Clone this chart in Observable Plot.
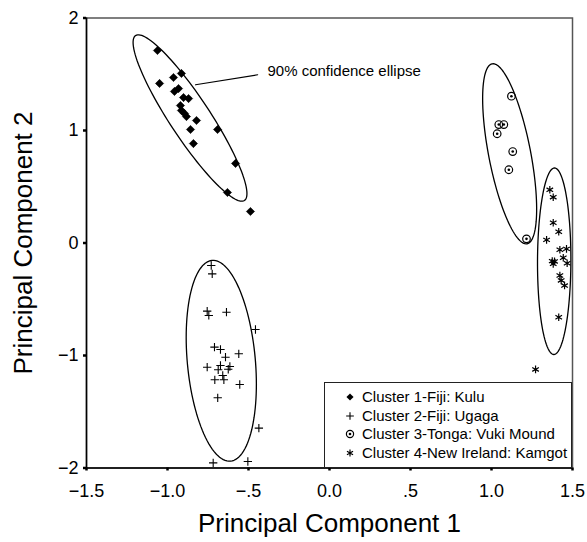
<!DOCTYPE html>
<html><head><meta charset="utf-8">
<script src="https://cdn.jsdelivr.net/npm/d3@7"></script>
<script src="https://cdn.jsdelivr.net/npm/@observablehq/plot@0.6"></script>
<style>
html,body{margin:0;padding:0;background:#fff;}
#wrap{position:relative;width:587px;height:542px;font-family:"Liberation Sans",Arial,sans-serif;color:#000;}
#legend{position:absolute;left:324px;top:382px;width:248px;height:86px;border:1px solid #222;box-sizing:border-box;background:#fff;}
.row{position:absolute;left:0;height:18px;width:246px;}
.row svg{position:absolute;left:17px;top:1px;}
.row span{position:absolute;left:37px;top:0;font-size:15px;line-height:18px;white-space:nowrap;}
</style></head><body><div id="wrap"></div>
<script>
// ---- data ----
const clusterNames = ["Cluster 1-Fiji: Kulu","Cluster 2-Fiji: Ugaga","Cluster 3-Tonga: Vuki Mound","Cluster 4-New Ireland: Kamgot"];

const c1x = [-1.062,-1.049,-0.963,-0.914,-0.957,-0.932,-0.870,-0.901,-0.920,-0.914,-0.895,-0.883,-0.821,-0.858,-0.691,-0.840,-0.580,-0.630,-0.488];
const c1y = [1.711,1.418,1.471,1.507,1.347,1.373,1.284,1.293,1.222,1.178,1.151,1.124,1.089,1.009,1.009,0.884,0.707,0.449,0.280];

const c2x = [-0.730,-0.724,-0.755,-0.745,-0.636,-0.457,-0.710,-0.673,-0.560,-0.642,-0.755,-0.673,-0.687,-0.615,-0.625,-0.659,-0.708,-0.652,-0.554,-0.690,-0.436,-0.718,-0.504];
const c2y = [-0.200,-0.274,-0.606,-0.644,-0.615,-0.769,-0.926,-0.947,-0.985,-1.015,-1.104,-1.089,-1.127,-1.098,-1.122,-1.178,-1.216,-1.216,-1.258,-1.376,-1.646,-1.954,-1.942];

const c3x = [1.123,1.045,1.076,1.035,1.131,1.107,1.216];
const c3y = [1.305,1.053,1.053,0.971,0.813,0.651,0.037];

const c4x = [1.360,1.381,1.381,1.415,1.340,1.422,1.463,1.443,1.375,1.381,1.389,1.467,1.422,1.430,1.451,1.415,1.272];
const c4y = [0.473,0.407,0.180,0.100,0.028,-0.060,-0.052,-0.131,-0.161,-0.185,-0.164,-0.180,-0.289,-0.333,-0.378,-0.660,-1.124];

// 90% ellipses: centre and semi-axis vectors (data units)
const ellCx = [-0.861,-0.668,1.112,1.387];
const ellCy = [1.111,-1.047,0.793,-0.162];
const ellMajorDx = [0.336,0.057,0.108,-0.002];
const ellMajorDy = [-0.733,-0.892,-0.800,-0.829];
const ellMinorDx = [0.103,0.209,0.127,0.103];
const ellMinorDy = [0.099,0.028,0.036,0.000];

const xTicks = [-1.5,-1,-0.5,0,0.5,1,1.5];
const xTickLabels = ["\u22121.5","\u22121.0","\u2212.5","0.0",".5","1.0","1.5"];
const yTicks = [-2,-1,0,1,2];
const yTickLabels = ["\u22122","\u22121","0","1","2"];
const xTitle = "Principal Component 1";
const yTitle = "Principal Component 2";
const noteText = "90% confidence ellipse";
const noteLineX = [-0.827,-0.443];
const noteLineY = [1.406,1.495];
const noteX = -0.383, noteY = 1.527;

// ---- build tables ----
const zip = (xs,ys) => xs.map((x,i)=>({x, y:ys[i]}));
const d1 = zip(c1x,c1y), d2 = zip(c2x,c2y), d3p = zip(c3x,c3y), d4 = zip(c4x,c4y);
const ellPts = [];
ellCx.forEach((cx,k)=>{
  for(let a=0;a<360;a+=3){
    const t=a*Math.PI/180;
    ellPts.push({k, x: cx + ellMajorDx[k]*Math.cos(t) + ellMinorDx[k]*Math.sin(t),
                    y: ellCy[k] + ellMajorDy[k]*Math.cos(t) + ellMinorDy[k]*Math.sin(t)});
  }
});
const noteLine = zip(noteLineX, noteLineY);

const font = "Liberation Sans, Arial, sans-serif";
const chart = Plot.plot({
  width:587, height:542,
  marginLeft:86, marginRight:15, marginTop:17.5, marginBottom:74.5,
  x:{domain:[-1.5,1.5]},
  y:{domain:[-2,2]},
  style:{fontFamily:font, background:"white", color:"#000", overflow:"visible"},
  marks:[
    Plot.frame({stroke:"#555", strokeWidth:1.5}),
    Plot.ruleX([-1.5],{stroke:"#000", strokeWidth:1.5}),
    Plot.ruleY([-2],{stroke:"#000", strokeWidth:1.5}),
    Plot.axisX(xTicks,{tickSize:3, strokeWidth:2.5, tickPadding:13, fontSize:18, tickFormat:d=>xTickLabels[xTicks.indexOf(d)], label:null}),
    Plot.axisY(yTicks,{tickSize:3, strokeWidth:2.5, tickPadding:5, fontSize:18, tickFormat:d=>yTickLabels[yTicks.indexOf(d)], label:null}),
    Plot.line(ellPts,{x:"x", y:"y", z:"k", curve:"linear-closed", stroke:"#000", strokeWidth:1.3}),
    Plot.line(noteLine,{x:"x", y:"y", stroke:"#000", strokeWidth:1.1}),
    Plot.text([noteText],{x:noteX, y:noteY, text:d=>d, textAnchor:"start", fontSize:15, fill:"#000"}),
    Plot.dot(d1,{x:"x", y:"y", symbol:"diamond2", r:3.7, fill:"#000", stroke:"#000", strokeWidth:0.6}),
    Plot.dot(d2,{x:"x", y:"y", symbol:"plus", r:2.8, stroke:"#000", strokeWidth:1.1}),
    Plot.dot(d3p,{x:"x", y:"y", symbol:"circle", r:3.8, fill:"none", stroke:"#000", strokeWidth:1.2}),
    Plot.dot(d3p,{x:"x", y:"y", symbol:"circle", r:1.3, fill:"#000", stroke:null}),
    Plot.dot(d4,{x:"x", y:"y", symbol:"asterisk", r:3.6, stroke:"#000", strokeWidth:1.2}),
    Plot.text([xTitle],{frameAnchor:"bottom", dy:64, textAnchor:"middle", text:d=>d, fontSize:26, fill:"#000"}),
    Plot.text([yTitle],{frameAnchor:"left", dx:-63, textAnchor:"middle", rotate:-90, text:d=>d, fontSize:26, fill:"#000"})
  ]
});
const wrap = document.getElementById("wrap");
wrap.appendChild(chart);

// ---- legend ----
const legend = document.createElement("div");
legend.id = "legend";
const sym = [
  `<path d="${d3.symbol(d3.symbolDiamond2, Math.PI*3.2*3.2)()}" fill="#000" transform="translate(8,8)"/>`,
  `<path d="${d3.symbol(d3.symbolPlus, Math.PI*2.6*2.6)()}" fill="none" stroke="#000" stroke-width="1.1" transform="translate(8,8)"/>`,
  `<circle cx="8" cy="8" r="3.6" fill="none" stroke="#000" stroke-width="1.2"/><circle cx="8" cy="8" r="1.3" fill="#000"/>`,
  `<path d="${d3.symbol(d3.symbolAsterisk, Math.PI*3.3*3.3)()}" fill="none" stroke="#000" stroke-width="1.2" transform="translate(8,8)"/>`
];
const rowTops = [5, 23.7, 42.3, 61];
clusterNames.forEach((name,i)=>{
  const r = document.createElement("div");
  r.className = "row";
  r.style.top = rowTops[i] + "px";
  r.innerHTML = `<svg width="16" height="16">${sym[i]}</svg><span>${name}</span>`;
  legend.appendChild(r);
});
wrap.appendChild(legend);
</script>
</body></html>
